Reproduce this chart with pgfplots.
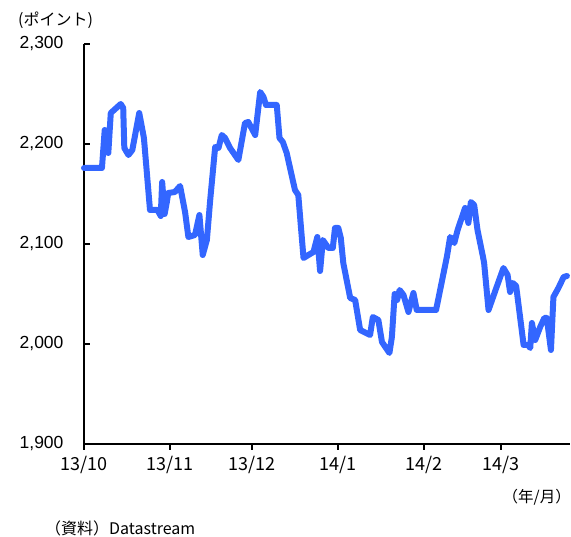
\documentclass[border=0pt]{standalone}
\usepackage{fontspec}
\setmainfont{Liberation Sans}
\newfontfamily\jp{Noto Sans CJK JP}
\usepackage{pgfplots}
\pgfplotsset{compat=1.18}
\definecolor{lineblue}{RGB}{51,102,255}
\begin{document}
\begin{tikzpicture}
\useasboundingbox (-84pt,-93pt) rectangle (487pt,444pt);
\begin{axis}[
  at={(0pt,0pt)}, anchor=south west,
  scale only axis, width=486pt, height=400pt,
  xmin=0, xmax=176, ymin=1900, ymax=2300,
  axis lines=left,
  axis line style={-, line width=2.6pt, black},
  tick align=inside,
  major tick length=6pt,
  tick style={line width=2pt, black},
  major x tick style={yshift=-6pt},
  xtick={0,31,61,92,123,151},
  xticklabels={13/10,13/11,13/12,14/1,14/2,14/3},
  ytick={1900,2000,2100,2200,2300},
  /pgf/number format/assume math mode=true,
  /pgf/number format/1000 sep={,},
  yticklabel style={font=\fontsize{17.5}{20}\selectfont, xshift=-17pt},
  xticklabel style={font=\jp\fontsize{18}{21}\selectfont, yshift=-9pt},
  clip=false,
]
\addplot[color=lineblue, line width=6pt, line join=round, line cap=round] coordinates {
(0,2176) (6.5,2176) (7.5,2214) (8.8,2191) (9.7,2231) (13.3,2240) (14.2,2236)
(14.6,2196) (16.1,2189) (17.5,2194) (20.0,2231) (21.7,2206) (23.9,2134)
(26.6,2134) (27.8,2128) (28.3,2162) (29.2,2130) (30.0,2142) (30.5,2151)
(32.9,2152) (34.8,2158) (36.6,2132) (37.8,2107) (40.2,2109) (41.8,2129)
(43.0,2089) (44.5,2104) (45.7,2144) (47.5,2197) (48.7,2196) (49.9,2209)
(51.1,2206) (52.9,2196) (55.9,2184) (58.3,2221) (59.5,2222) (62.0,2209)
(63.8,2252) (65.0,2247) (65.9,2239) (69.8,2239) (70.8,2206) (72.0,2202)
(73.4,2191) (76.4,2154) (77.6,2149) (79.5,2086) (81.3,2089) (83.1,2092)
(84.5,2107) (85.5,2073) (86.5,2104) (88.5,2096) (90.1,2096) (90.9,2116)
(92.1,2116) (93.0,2106) (93.9,2081) (96.4,2046) (98.2,2044) (100.0,2014)
(103.6,2009) (104.6,2027) (106.6,2024) (107.9,2002) (110.6,1991) (111.5,2007)
(112.5,2050) (113.4,2044) (114.3,2054) (115.7,2049) (117.5,2032) (119.3,2051)
(120.5,2034) (127.5,2034) (131.4,2087) (132.6,2107) (134.1,2101) (135.3,2114)
(138.0,2136) (139.2,2121) (140.1,2142) (141.3,2139) (142.5,2114) (144.5,2087)
(144.9,2081) (146.5,2034) (149.3,2056) (151.9,2076) (153.4,2069) (154.3,2052)
(155.3,2061) (156.5,2058) (159.2,1999) (160.8,1999) (161.6,1996) (162.2,2021)
(163.4,2004) (165.2,2017) (166.7,2026) (167.6,2026) (169.1,1994) (170.0,2047)
(171.8,2056) (173.7,2067) (174.9,2068)
};
\end{axis}
\node[anchor=west, font=\jp\fontsize{16}{19}\selectfont, inner sep=0pt] at (-66pt,424pt) {(ポイント)};
\node[anchor=east, font=\jp\fontsize{15.5}{19}\selectfont, inner sep=0pt] at (487pt,-53pt) {（年/月）};
\node[anchor=west, font=\jp\fontsize{16}{19}\selectfont, inner sep=0pt] at (-39pt,-84pt) {（資料）Datastream};
\end{tikzpicture}
\end{document}
